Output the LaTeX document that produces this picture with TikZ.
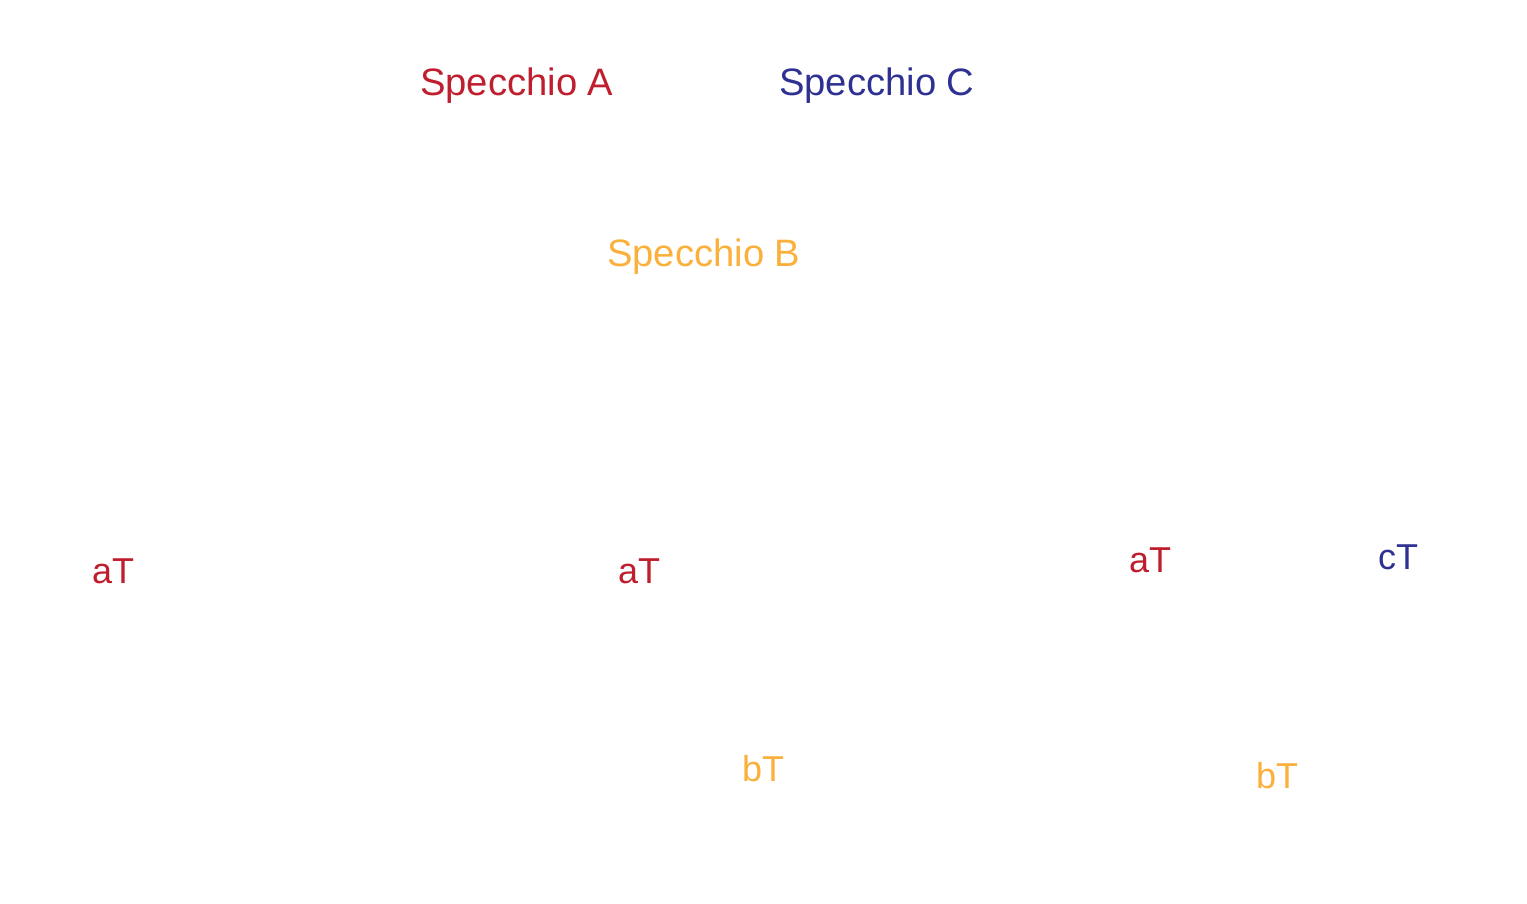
\documentclass[tikz,border=0pt]{standalone}
\usepackage{fontspec}
\setmainfont{Liberation Sans}
\definecolor{cred}{HTML}{BE1E2D}
\definecolor{cnavy}{HTML}{2E3192}
\definecolor{corange}{HTML}{FBB03B}
\begin{document}
\begin{tikzpicture}[x=1pt,y=-1pt,
  title/.style={anchor=base west,inner sep=0pt,font=\fontsize{38.2}{40}\selectfont},
  tag/.style={anchor=base west,inner sep=0pt,font=\fontsize{36}{40}\selectfont}]
\useasboundingbox (0,0) rectangle (1527,903);
\node[title,text=cred] (specA) at (420,95) {Specchio A};
\node[title,text=cnavy] (specC) at (779,95) {Specchio C};
\node[title,text=corange] (specB) at (607,266) {Specchio B};
\node[tag,text=cred] (aT1) at (92,583) {aT};
\node[tag,text=cred] (aT2) at (618,583) {aT};
\node[tag,text=cred] (aT3) at (1129,572) {aT};
\node[tag,text=cnavy] (cT) at (1378,569) {cT};
\node[tag,text=corange] (bT1) at (742,781) {bT};
\node[tag,text=corange] (bT2) at (1256,788) {bT};
\end{tikzpicture}
\end{document}
